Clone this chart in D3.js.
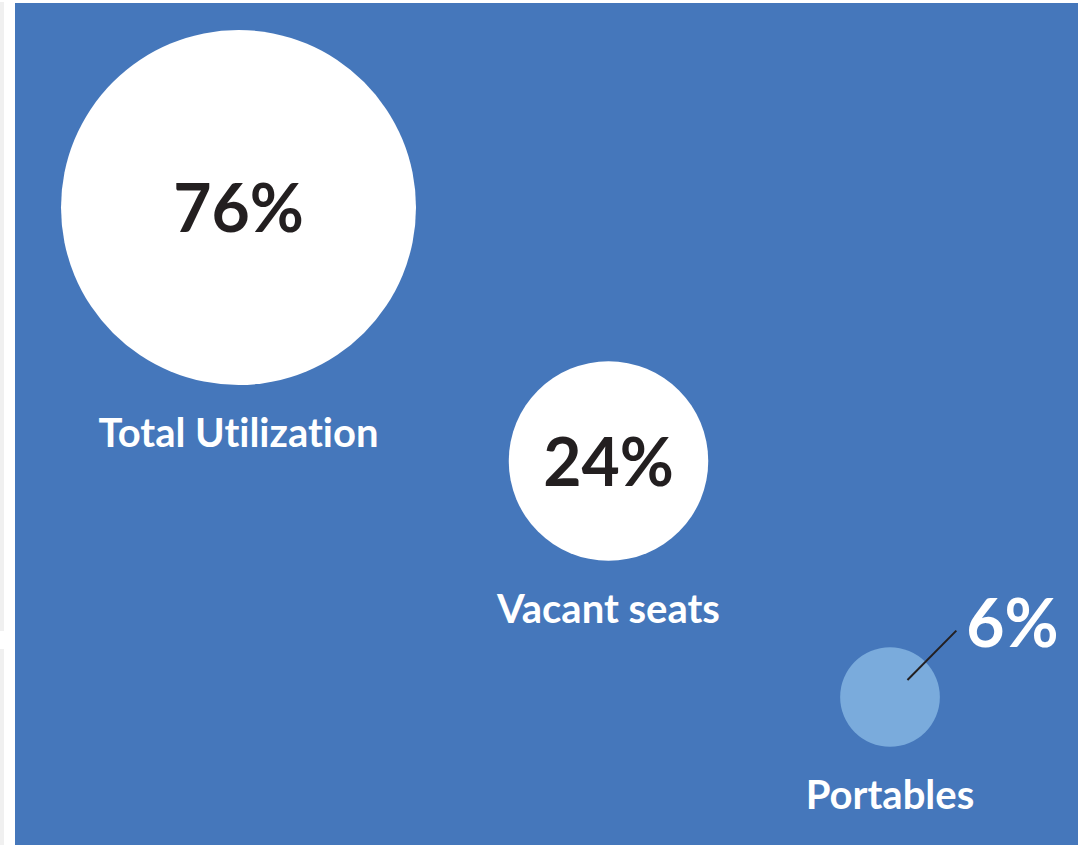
<!DOCTYPE html>
<html>
<head>
<meta charset="utf-8">
<script src="https://cdn.jsdelivr.net/npm/d3@7"></script>
<style>
  html, body { margin: 0; padding: 0; background: #fff; }
  svg { display: block; font-family: Lato, "Open Sans", sans-serif; font-variant-ligatures: none; }
</style>
</head>
<body>
<svg id="chart" width="1078" height="845"></svg>
<script>
// data
const categories = ["Total Utilization", "Vacant seats", "Portables"]
const values = [76, 24, 6]
const valueLabels = ["76%", "24%", "6%"]

// layout (centres of each bubble in page pixels)
const centreX = [238.5, 608.5, 890]
const centreY = [207.5, 461, 697]
const fills = ["#ffffff", "#ffffff", "#7aabdc"]

const svg = d3.select("#chart")

// page frame: grey strips on the left, blue panel
svg.append("rect").attr("x", 0).attr("y", 2).attr("width", 4).attr("height", 629).attr("fill", "#f0f0f0")
svg.append("rect").attr("x", 0).attr("y", 649).attr("width", 4).attr("height", 196).attr("fill", "#f0f0f0")
svg.append("rect").attr("x", 15).attr("y", 3).attr("width", 1063).attr("height", 842).attr("fill", "#4577bb")

const r = d3.scaleSqrt().domain([0, d3.max(values)]).range([0, 177.5])

const data = categories.map((c, i) => ({ name: c, value: values[i], label: valueLabels[i], x: centreX[i], y: centreY[i], fill: fills[i] }))

const g = svg.append("g")

g.selectAll("circle")
  .data(data)
  .join("circle")
    .attr("cx", d => d.x)
    .attr("cy", d => d.y)
    .attr("r", d => r(d.value))
    .attr("fill", d => d.fill)

// category names under each bubble
g.selectAll("text.name")
  .data(data)
  .join("text")
    .attr("class", "name")
    .attr("x", d => d.x)
    .attr("y", d => d.y + r(d.value) + 62)
    .attr("text-anchor", "middle")
    .attr("fill", "#fff")
    .attr("font-weight", 700)
    .attr("font-size", 40)
    .text(d => d.name)

// percentages: inside for the big two, outside with a leader for the small one
const inside = data.filter(d => d.value >= 20)
const outside = data.filter(d => d.value < 20)

g.selectAll("text.val")
  .data(inside)
  .join("text")
    .attr("class", "val")
    .attr("x", d => d.x)
    .attr("y", d => d.y + 24.5)
    .attr("text-anchor", "middle")
    .attr("fill", "#231f20")
    .attr("font-weight", 700)
    .attr("font-size", 66)
    .text(d => d.label)

outside.forEach(d => {
  const rr = r(d.value)
  g.append("line")
    .attr("x1", d.x + rr * 0.35).attr("y1", d.y - rr * 0.34)
    .attr("x2", d.x + rr * 1.33).attr("y2", d.y - rr * 1.33)
    .attr("stroke", "#231f20")
    .attr("stroke-width", 2)
  g.append("text")
    .attr("x", d.x + rr * 1.53)
    .attr("y", d.y - rr * 1.0)
    .attr("fill", "#fff")
    .attr("font-weight", 700)
    .attr("font-size", 66)
    .text(d.label)
})
</script>
</body>
</html>
